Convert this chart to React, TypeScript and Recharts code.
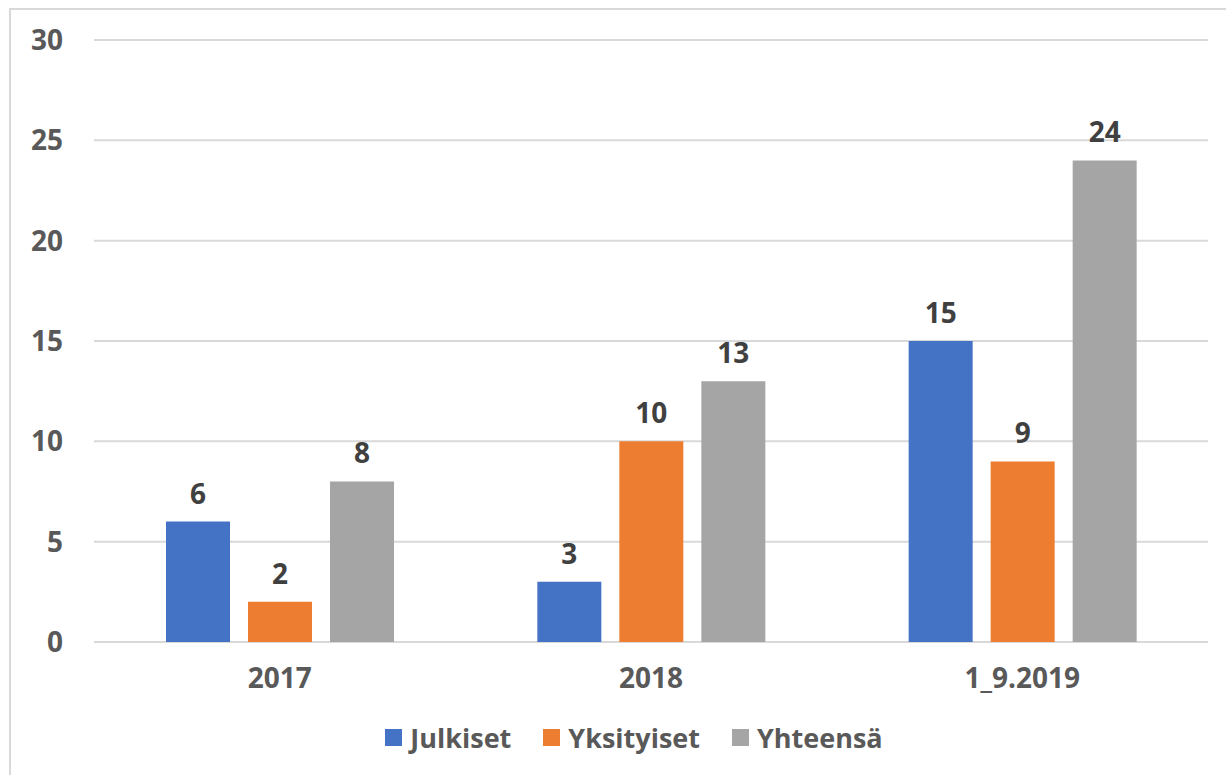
import React from "react";
import { BarChart, Bar, XAxis, YAxis, CartesianGrid, Legend, LabelList } from "recharts";

const categories = ["2017", "2018", "1_9.2019"];
const julkiset = [6, 3, 15];
const yksityiset = [2, 10, 9];
const yhteensa = [8, 13, 24];
const yTicks = [0, 5, 10, 15, 20, 25, 30];
const seriesNames = ["Julkiset", "Yksityiset", "Yhteensä"];
const seriesColors = ["#4472C4", "#ED7D31", "#A5A5A5"];

const data = categories.map((c, i) => ({
  name: c,
  julkiset: julkiset[i],
  yksityiset: yksityiset[i],
  yhteensa: yhteensa[i],
}));

const FONT = "'Open Sans', 'DejaVu Sans', sans-serif";

const LegendContent = () => (
  <div
    style={{
      display: "flex",
      justifyContent: "center",
      alignItems: "center",
      paddingLeft: 26,
      height: 30,
      marginTop: -3,
      fontFamily: FONT,
      fontWeight: 700,
      fontSize: 27,
      color: "#595959",
    }}
  >
    {seriesNames.map((n, i) => (
      <div key={n} style={{ display: "flex", alignItems: "center", marginLeft: i === 0 ? 0 : 32 }}>
        <div style={{ width: 17, height: 17, background: seriesColors[i], marginRight: 8 }} />
        <span>{n}</span>
      </div>
    ))}
  </div>
);

const labelStyle = { fill: "#404040", fontSize: 28, fontWeight: 700, fontFamily: FONT };
const tickStyle = { fill: "#595959", fontSize: 28, fontWeight: 700, fontFamily: FONT };

export default function App() {
  return (
    <div
      style={{
        position: "absolute",
        left: 0,
        top: 0,
        width: 1226,
        height: 775,
        overflow: "hidden",
        background: "#fff",
      }}
    >
      <div
        style={{
          position: "absolute",
          left: 9,
          top: 8,
          width: 1300,
          height: 800,
          border: "2px solid #d9d9d9",
        }}
      />
      <div style={{ position: "absolute", left: 0, top: 0 }}>
        <BarChart
          width={1226}
          height={775}
          data={data}
          margin={{ top: 40, right: 18, left: 34, bottom: 20 }}
          barSize={64}
          barGap={18}
        >
          <CartesianGrid vertical={false} stroke="#d9d9d9" strokeWidth={2} />
          <XAxis
            dataKey="name"
            axisLine={false}
            tickLine={false}
            height={83}
            tickMargin={20}
            tick={tickStyle}
          />
          <YAxis
            width={60}
            domain={[0, 30]}
            ticks={yTicks}
            axisLine={false}
            tickLine={false}
            tickMargin={25}
            tick={tickStyle}
          />
          <Legend verticalAlign="bottom" height={30} content={<LegendContent />} />
          <Bar dataKey="julkiset" name={seriesNames[0]} fill={seriesColors[0]} isAnimationActive={false}>
            <LabelList dataKey="julkiset" position="top" offset={18} style={labelStyle} />
          </Bar>
          <Bar dataKey="yksityiset" name={seriesNames[1]} fill={seriesColors[1]} isAnimationActive={false}>
            <LabelList dataKey="yksityiset" position="top" offset={18} style={labelStyle} />
          </Bar>
          <Bar dataKey="yhteensa" name={seriesNames[2]} fill={seriesColors[2]} isAnimationActive={false}>
            <LabelList dataKey="yhteensa" position="top" offset={18} style={labelStyle} />
          </Bar>
        </BarChart>
      </div>
    </div>
  );
}
